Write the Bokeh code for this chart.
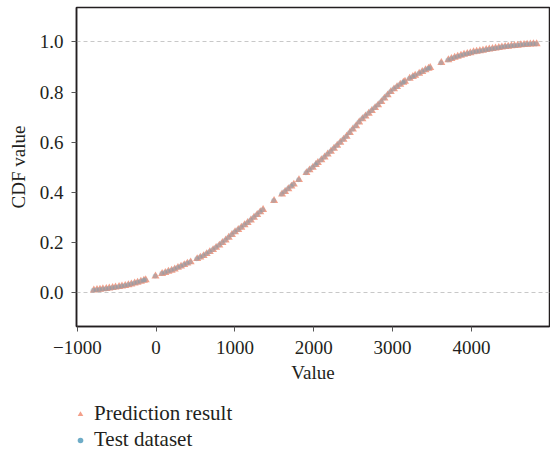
from bokeh.plotting import figure
from bokeh.layouts import column
from bokeh.models import ColumnDataSource, Legend, LegendItem, FixedTicker, PrintfTickFormatter
from bokeh.embed import file_html
from bokeh.resources import INLINE

# Sorted sample values and their CDF values
test_values = [-800, -760, -720, -680, -640, -600, -560, -520, -480, -440, -400, -360, -320,
               -280, -240, -200, -160, -140, -13, 70, 110, 150, 190, 230, 270, 310, 350, 390,
               430, 515, 555, 595, 635, 675, 715, 755, 795, 835, 875, 915, 955, 995, 1035,
               1075, 1115, 1155, 1195, 1235, 1275, 1315, 1350, 1490, 1590, 1630, 1670, 1710,
               1740, 1806, 1900, 1940, 1980, 2020, 2045, 2090, 2130, 2170, 2210, 2250, 2290,
               2330, 2370, 2410, 2450, 2490, 2530, 2570, 2610, 2650, 2690, 2730, 2770, 2810,
               2850, 2890, 2930, 2970, 3010, 3050, 3090, 3130, 3150, 3210, 3250, 3280, 3330,
               3370, 3410, 3450, 3470, 3612, 3700, 3740, 3780, 3820, 3860, 3900, 3940, 3980,
               4020, 4060, 4100, 4140, 4180, 4220, 4260, 4300, 4340, 4380, 4420, 4460, 4500,
               4540, 4580, 4620, 4660, 4700, 4740, 4780, 4820]

predicted_values = [-790, -750, -712, -675, -632, -594, -552, -515, -470, -433, -392, -352, -314,
                    -272, -235, -193, -155, -132, -8, 76, 117, 156, 197, 236, 277, 316, 357, 396,
                    438, 521, 561, 602, 641, 681, 722, 761, 802, 841, 882, 921, 962, 1001, 1042,
                    1081, 1122, 1161, 1202, 1241, 1282, 1321, 1357, 1496, 1597, 1636, 1677, 1716,
                    1747, 1812, 1907, 1946, 1987, 2026, 2052, 2096, 2137, 2176, 2217, 2256, 2297,
                    2336, 2377, 2416, 2457, 2496, 2537, 2576, 2617, 2656, 2697, 2736, 2777, 2816,
                    2857, 2896, 2937, 2976, 3017, 3056, 3097, 3136, 3157, 3216, 3257, 3286, 3337,
                    3376, 3417, 3456, 3477, 3618, 3707, 3746, 3787, 3826, 3867, 3906, 3947, 3986,
                    4027, 4066, 4107, 4146, 4187, 4226, 4267, 4306, 4347, 4386, 4427, 4466, 4507,
                    4546, 4587, 4626, 4667, 4706, 4747, 4786, 4827]

cdf_values = [0.010, 0.012, 0.013, 0.015, 0.016, 0.018, 0.020, 0.022, 0.024, 0.026, 0.028, 0.031,
              0.034, 0.038, 0.041, 0.045, 0.049, 0.051, 0.066, 0.076, 0.080, 0.085, 0.089, 0.094,
              0.100, 0.105, 0.111, 0.117, 0.122, 0.135, 0.141, 0.147, 0.155, 0.163, 0.171, 0.180,
              0.189, 0.199, 0.209, 0.220, 0.231, 0.242, 0.251, 0.260, 0.270, 0.279, 0.289, 0.300,
              0.311, 0.322, 0.331, 0.367, 0.393, 0.403, 0.414, 0.424, 0.432, 0.450, 0.478, 0.489,
              0.499, 0.510, 0.518, 0.529, 0.540, 0.552, 0.563, 0.575, 0.587, 0.599, 0.611, 0.623,
              0.638, 0.652, 0.665, 0.680, 0.693, 0.704, 0.715, 0.726, 0.737, 0.748, 0.761, 0.775,
              0.788, 0.801, 0.812, 0.821, 0.830, 0.838, 0.842, 0.854, 0.861, 0.866, 0.874, 0.881,
              0.888, 0.894, 0.897, 0.917, 0.928, 0.933, 0.938, 0.942, 0.946, 0.950, 0.953, 0.956,
              0.960, 0.962, 0.964, 0.966, 0.969, 0.971, 0.973, 0.975, 0.977, 0.979, 0.981, 0.982,
              0.984, 0.985, 0.986, 0.988, 0.989, 0.990, 0.991, 0.992, 0.992]

x_ticks = [-1000, 0, 1000, 2000, 3000, 4000]
y_ticks = [0.0, 0.2, 0.4, 0.6, 0.8, 1.0]
series_labels = ["Prediction result", "Test dataset"]

FONT = "Liberation Serif"
TEXT = "#231f20"
PRED_COLOR = "#f2957c"
TEST_COLOR = "#5ea3c1"

test_src = ColumnDataSource(dict(x=test_values, y=cdf_values))
pred_src = ColumnDataSource(dict(x=predicted_values, y=cdf_values))

# Main CDF panel
p = figure(width=550, height=390, x_range=(-1010, 4990), y_range=(-0.135, 1.137),
           output_backend="svg", toolbar_location=None,
           min_border_left=76, min_border_right=1, min_border_top=7, min_border_bottom=64)

pred_style = dict(marker="triangle", size=8, fill_color=PRED_COLOR, line_color=None, fill_alpha=0.9)
test_style = dict(marker="circle", size=5, fill_color=TEST_COLOR, line_color=None, fill_alpha=0.35)

p.scatter("x", "y", source=pred_src, **pred_style)
p.scatter("x", "y", source=test_src, **test_style)

p.xaxis.ticker = FixedTicker(ticks=x_ticks)
p.yaxis.ticker = FixedTicker(ticks=y_ticks)
p.yaxis.formatter = PrintfTickFormatter(format="%.1f")
p.xaxis.axis_label = "Value"
p.yaxis.axis_label = "CDF value"

for ax in (p.xaxis[0], p.yaxis[0]):
    ax.axis_label_text_font = FONT
    ax.axis_label_text_font_style = "normal"
    ax.axis_label_text_font_size = "19px"
    ax.axis_label_text_color = TEXT
    ax.major_label_text_font = FONT
    ax.major_label_text_font_size = "19px"
    ax.major_label_text_color = TEXT
    ax.axis_line_color = TEXT
    ax.axis_line_width = 1.5
    ax.major_tick_line_color = "#555555"
    ax.major_tick_in = 0
    ax.major_tick_out = 5
    ax.minor_tick_line_color = None

p.xaxis.major_label_standoff = 9
p.xaxis.axis_label_standoff = 5
p.yaxis.major_label_standoff = 8
p.yaxis.axis_label_standoff = 8

p.xgrid.grid_line_color = None
p.ygrid.ticker = FixedTicker(ticks=[0.0, 1.0])
p.ygrid.grid_line_color = "#c8c8c8"
p.ygrid.grid_line_dash = "4 3"
p.ygrid.grid_line_width = 1

p.outline_line_color = TEXT
p.outline_line_width = 1.5

# Legend strip underneath the chart (its frame lines up with the chart's frame)
lg = figure(width=550, height=65, x_range=(0, 1), y_range=(0, 1),
            output_backend="svg", toolbar_location=None,
            min_border=0, outline_line_color=None)
lg.axis.visible = False
lg.grid.visible = False
lg_pred = lg.scatter("x", "y", source=pred_src, visible=False, **pred_style)
lg_test = lg.scatter("x", "y", source=test_src, visible=False, **test_style)
lg_test.glyph.fill_alpha = 0.9

legend = Legend(items=[LegendItem(label=series_labels[0], renderers=[lg_pred]),
                       LegendItem(label=series_labels[1], renderers=[lg_test])],
                orientation="vertical", location=(-3, 3),
                label_text_font=FONT, label_text_font_size="21px", label_text_color=TEXT,
                border_line_color=None, background_fill_alpha=0,
                inactive_fill_alpha=0,
                glyph_width=14, glyph_height=20, label_height=20, label_standoff=7,
                spacing=1, padding=4, margin=0)
lg.add_layout(legend, "center")

open("out.html", "w").write(file_html(column(p, lg), INLINE))
